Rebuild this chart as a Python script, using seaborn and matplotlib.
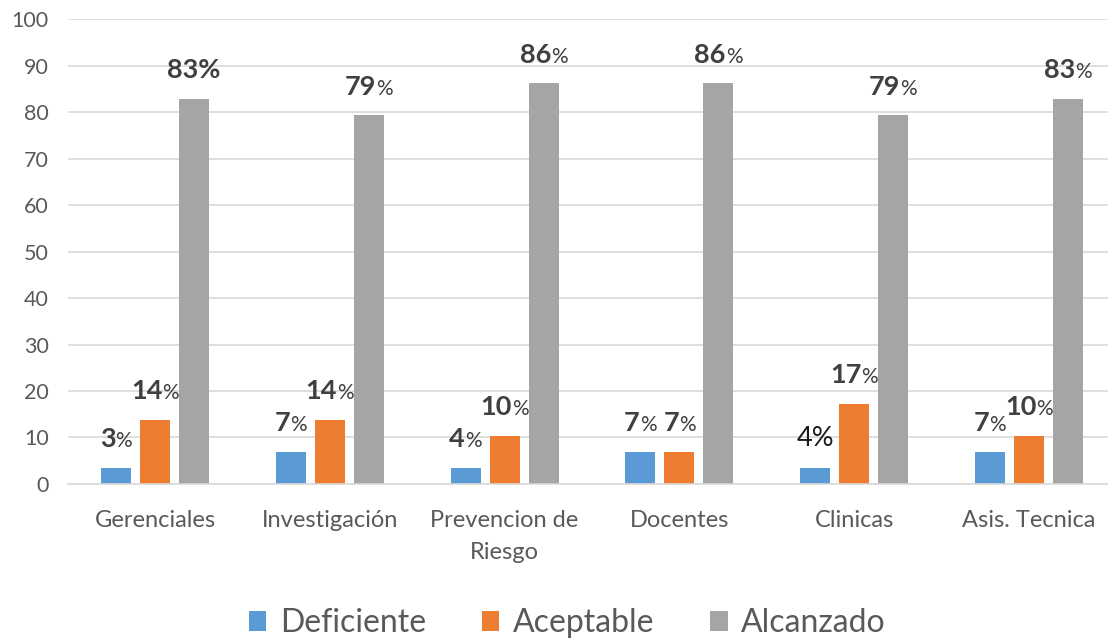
import matplotlib
matplotlib.use("Agg")
import matplotlib.pyplot as plt
import seaborn as sns
import pandas as pd
from matplotlib.offsetbox import TextArea, HPacker, AnnotationBbox

categories = ["Gerenciales", "Investigación", "Prevencion de\nRiesgo", "Docentes", "Clinicas", "Asis. Tecnica"]
series = ["Deficiente", "Aceptable", "Alcanzado"]
deficiente = [3.4, 6.9, 3.4, 6.9, 3.4, 6.9]
aceptable = [13.8, 13.8, 10.3, 6.9, 17.2, 10.3]
alcanzado = [82.8, 79.3, 86.2, 86.2, 79.3, 82.8]
lbl_def = ["3", "7", "4", "7", "4", "7"]
lbl_ace = ["14", "14", "10", "7", "17", "10"]
lbl_alc = ["83", "79", "86", "86", "79", "83"]
# label style: "mix" = bold number + small normal %, "bold" = all bold, "plain" = all normal
sty_def = ["mix", "mix", "mix", "mix", "plain", "mix"]
sty_ace = ["mix", "mix", "mix", "mix", "mix", "mix"]
sty_alc = ["bold", "mix", "mix", "mix", "mix", "mix"]

colors = ["#5B9BD5", "#ED7D31", "#A5A5A5"]

rows = []
for i, c in enumerate(categories):
    rows.append((c, "Deficiente", deficiente[i]))
    rows.append((c, "Aceptable", aceptable[i]))
    rows.append((c, "Alcanzado", alcanzado[i]))
df = pd.DataFrame(rows, columns=["cat", "serie", "val"])

sns.set_theme(style="white")
plt.rcParams["font.family"] = ["Lato", "DejaVu Sans"]

fig = plt.figure(figsize=(11.08, 6.41), dpi=100)
ax = fig.add_axes([0.061, 0.245, 0.945, 0.725])

sns.barplot(data=df, x="cat", y="val", hue="serie", order=categories, hue_order=series,
            palette=colors, width=0.67, gap=0.23, saturation=1, ax=ax, legend=True,
            edgecolor="none", linewidth=0)

ax.set_ylim(0, 100)
ax.set_yticks(range(0, 101, 10))
ax.set_xlim(-0.5, 5.49)
ax.yaxis.grid(True, color="#D9D9D9", linewidth=1.2)
ax.set_axisbelow(True)
for s in ["left", "right", "top"]:
    ax.spines[s].set_visible(False)
ax.spines["bottom"].set_color("#D9D9D9")
ax.spines["bottom"].set_linewidth(1.2)
ax.tick_params(axis="both", length=0, colors="#595959")
ax.tick_params(axis="y", pad=13.5, labelsize=15.5)
ax.tick_params(axis="x", pad=19, labelsize=17)
for t in ax.get_xticklabels():
    t.set_linespacing(1.6)
ax.set_xlabel("")
ax.set_ylabel("")

txtcol = "#404040"

def add_label(x, y, num, style):
    if style == "bold":
        children = [TextArea(num + "%", textprops=dict(fontsize=19.5, fontweight="bold", color=txtcol))]
    elif style == "plain":
        children = [TextArea(num + "%", textprops=dict(fontsize=19.5, color="#1a1a1a"))]
    else:
        children = [TextArea(num, textprops=dict(fontsize=19.5, fontweight="bold", color=txtcol)),
                    TextArea("%", textprops=dict(fontsize=15, color=txtcol))]
    box = HPacker(children=children, align="baseline", pad=0, sep=0)
    ab = AnnotationBbox(box, (x, y), xybox=(0, 12), xycoords="data", boxcoords="offset points",
                        box_alignment=(0.5, 0), frameon=False, pad=0)
    ax.add_artist(ab)

lbls = [lbl_def, lbl_ace, lbl_alc]
stys = [sty_def, sty_ace, sty_alc]
for j, cont in enumerate(ax.containers):
    for i, bar in enumerate(cont.patches):
        xc = bar.get_x() + bar.get_width() / 2
        add_label(xc, bar.get_height(), lbls[j][i], stys[j][i])

leg = ax.legend(loc="upper center", bbox_to_anchor=(0.512, 0.096), bbox_transform=fig.transFigure,
                ncol=3, frameon=False,
                fontsize=23, handlelength=0.55, handleheight=0.55, handletextpad=0.42,
                columnspacing=1.75, labelcolor="#595959")

fig.savefig("out.png", dpi=100)
